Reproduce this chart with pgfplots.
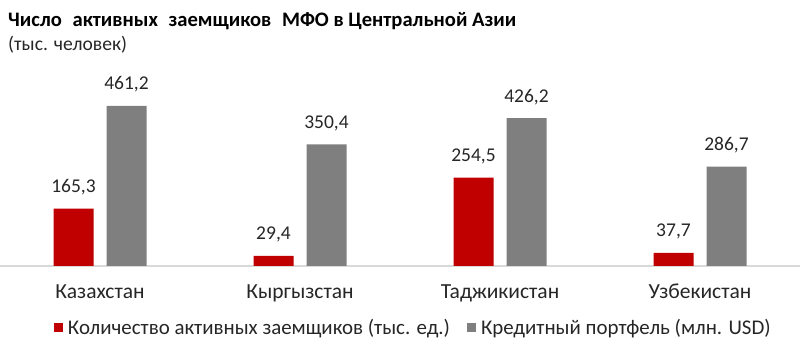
\documentclass[border=0pt]{standalone}
\usepackage{pgfplots}
\pgfplotsset{compat=1.18}
\usepackage{fontspec}
\setmainfont{Carlito}
\definecolor{myred}{HTML}{C00000}
\definecolor{mygray}{HTML}{7F7F7F}
\definecolor{axgray}{HTML}{D9D9D9}
\definecolor{txt}{HTML}{262626}
\begin{document}
\begin{tikzpicture}
\useasboundingbox (0,0) rectangle (800bp,353bp);
\node[anchor=base west, inner sep=0, font=\fontsize{20.6bp}{24bp}\selectfont\bfseries] at (8bp,326bp) {Число\hspace{6bp} активных\hspace{6bp} заемщиков\hspace{6bp} МФО в Центральной Азии};
\node[anchor=base west, inner sep=0, font=\fontsize{19.6bp}{23bp}\selectfont, text=txt] at (8bp,302bp) {(тыс. человек)};
\begin{axis}[
  at={(0,87bp)}, anchor=south west,
  scale only axis, width=800bp, height=208.2bp,
  xmin=-0.5, xmax=3.5, ymin=0, ymax=600,
  axis y line=none, axis x line*=bottom,
  x axis line style={draw=axgray, line width=1.5bp, -},
  xtick={0,1,2,3},
  xticklabels={Казахстан,Кыргызстан,Таджикистан,Узбекистан},
  major tick length=0, ytick=\empty,
  xticklabel style={anchor=base, yshift=-32bp, inner sep=0, font=\fontsize{21.5bp}{25bp}\selectfont, text=txt},
  ybar, bar width=40bp,
  nodes near coords,
  every node near coord/.append style={anchor=base, yshift=16bp, inner sep=0, font=\fontsize{19.5bp}{23bp}\selectfont, text=txt},
  /pgf/number format/.cd, fixed, fixed zerofill, precision=1, use comma, assume math mode=true,
  /pgfplots/.cd,
  legend columns=2,
  legend style={at={(0.0675,-0.2954)}, anchor=west, draw=none, inner sep=0, outer sep=0,
    font=\fontsize{20.9bp}{24bp}\selectfont, text=txt,
    /tikz/every odd column/.append style={column sep=3bp},
    /tikz/every even column/.append style={column sep=15bp}},
  legend image code/.code={\fill[#1] (0bp,-4.5bp) rectangle (9bp,4.5bp);},
]
\addplot[fill=myred, draw=none, bar shift=-26.5bp] coordinates {(0,165.3) (1,29.4) (2,254.5) (3,37.7)};
\addplot[fill=mygray, draw=none, bar shift=26.5bp] coordinates {(0,461.2) (1,350.4) (2,426.2) (3,286.7)};
\legend{Количество активных заемщиков (тыс. ед.), Кредитный портфель (млн. USD)}
\end{axis}
\end{tikzpicture}
\end{document}
